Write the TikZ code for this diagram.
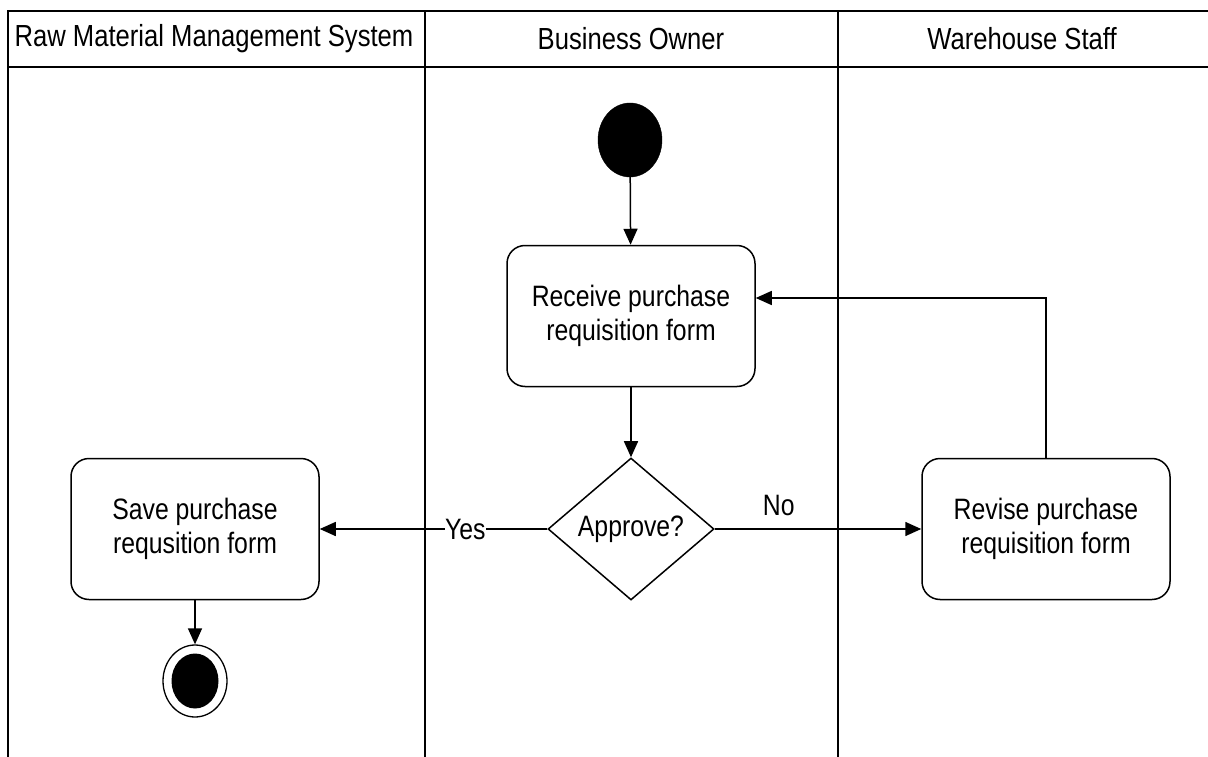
\documentclass[tikz,border=0pt]{standalone}
\usepackage{fontspec}
\setmainfont{Liberation Sans}[FakeStretch=0.84]
\usetikzlibrary{shapes.geometric,arrows.meta}
\begin{document}
\begin{tikzpicture}[x=1pt,y=-1pt,
  lane/.style={line width=1.6pt},
  act/.style={draw,line width=1.5pt,rounded corners=18pt,minimum width=248pt,minimum height=141pt,align=center,font=\fontsize{29.5}{34}\selectfont,inner sep=0pt},
  dec/.style={draw,line width=1.5pt,diamond,minimum width=166pt,minimum height=142pt,inner sep=0pt,font=\fontsize{29.5}{34}\selectfont},
  flow/.style={line width=1.5pt,-{Triangle[length=16pt,width=14pt]}},
  lbl/.style={font=\fontsize{29.5}{34}\selectfont,fill=white,inner sep=0pt},
  hdr/.style={font=\fontsize{30.5}{34}\selectfont}]
\useasboundingbox (0,0) rectangle (1208,757);
% swimlanes
\draw[lane] (8,757) -- (8,11) -- (1208,11);
\draw[lane] (8,67) -- (1208,67);
\draw[lane] (425,11) -- (425,757);
\draw[lane] (838,11) -- (838,757);
\node[hdr] (h1) at (214,39) {Raw Material Management System};
\node[hdr] (h2) at (631,39) {Business Owner};
\node[hdr] (h3) at (1022,39) {Warehouse Staff};
% nodes
\node[draw,fill=black,ellipse,minimum width=64pt,minimum height=74pt,inner sep=0pt] (start) at (630,140) {};
\node[act] (recv) at (631,316) {Receive purchase\\requisition form};
\node[dec] (appr) at (631,529) {Approve?};
\node[act] (save) at (195,529) {Save purchase\\requsition form};
\node[act] (rev) at (1046,529) {Revise purchase\\requisition form};
\node[draw,line width=1.3pt,ellipse,minimum width=64pt,minimum height=72pt,inner sep=0pt] (end) at (195,681) {};
\node[fill=black,ellipse,minimum width=47pt,minimum height=55pt,inner sep=0pt] (endin) at (195,681) {};
% connectors
\draw[flow] (start) -- (recv);
\draw[flow] (recv) -- (appr);
\draw[flow] (appr.west) -- node[lbl,pos=0.36] (yes) {Yes} (save.east);
\draw[flow] (appr.east) -- node[lbl,pos=0.31,above=12pt,fill=none] (no) {No} (rev.west);
\draw[flow] (save) -- (end);
\draw[flow] (rev.north) |- (recv.east |- 0,298);
\end{tikzpicture}
\end{document}
